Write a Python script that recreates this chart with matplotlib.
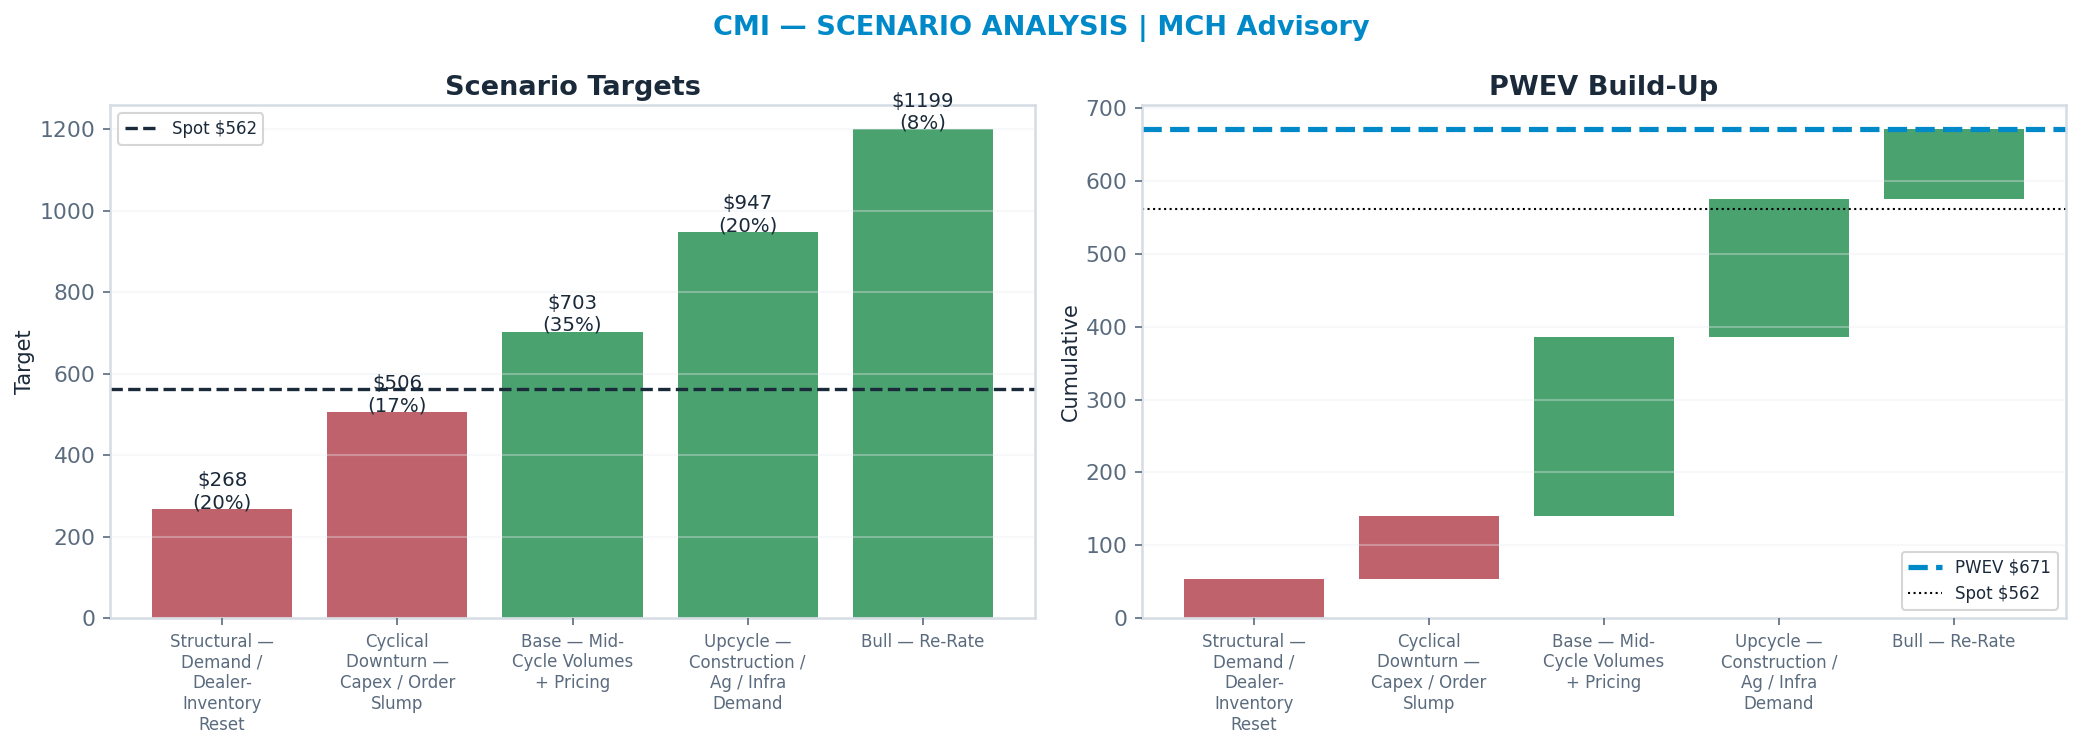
import textwrap
import matplotlib
matplotlib.use("Agg")
import matplotlib.pyplot as plt
import numpy as np

scenarios = [
    "Structural — Demand / Dealer-Inventory Reset",
    "Cyclical Downturn — Capex / Order Slump",
    "Base — Mid-Cycle Volumes + Pricing",
    "Upcycle — Construction / Ag / Infra Demand",
    "Bull — Re-Rate",
]
targets = [268, 506, 703, 947, 1199]
probs = [0.20, 0.17, 0.35, 0.20, 0.08]
spot = 562
pwev = 671

RED = "#C0626C"
GREEN = "#4AA26F"
DARK = "#1B2A3A"
TICK = "#5A6B7E"
SPINE = "#D5DCE4"
BLUE = "#0089C8"

plt.rcParams["font.family"] = ["DejaVu Sans"]

fig = plt.figure(figsize=(2083 / 150, 742 / 150), dpi=150)
W, H = 2083, 742
ax1 = fig.add_axes([110 / W, 1 - 618 / H, 925 / W, 513 / H])
ax2 = fig.add_axes([1142 / W, 1 - 618 / H, 924 / W, 513 / H])

labels = [textwrap.fill(s, 14) for s in scenarios]
x = np.arange(len(scenarios))
colors = [RED if t < spot else GREEN for t in targets]


def style(ax):
    for s in ax.spines.values():
        s.set_color(SPINE)
        s.set_linewidth(1.2)
    ax.tick_params(axis="y", colors=TICK, labelsize=10.5)
    ax.tick_params(axis="x", colors=TICK, labelsize=8)
    for t in ax.get_xticklabels() + ax.get_yticklabels():
        t.set_color(TICK)
    ax.set_axisbelow(False)
    ax.grid(axis="y", color="#E8ECEF", alpha=0.35, linewidth=1.0)


# Left: scenario targets
ax1.bar(x, targets, width=0.8, color=colors)
for xi, t, p in zip(x, targets, probs):
    ax1.text(xi, t - 8, f"${t}\n({p*100:.0f}%)", ha="center", va="bottom",
             fontsize=9.5, color=DARK, linespacing=1.2)
ax1.axhline(spot, color=DARK, linestyle="--", linewidth=1.6, label=f"Spot ${spot}")
ax1.set_ylim(0, max(targets) * 1.05)
ax1.set_xticks(x)
ax1.set_xticklabels(labels)
ax1.set_ylabel("Target", fontsize=10, color=DARK, labelpad=2)
ax1.set_title("Scenario Targets", fontsize=13, fontweight="bold", color=DARK, pad=5)
leg1 = ax1.legend(loc="upper left", fontsize=8, frameon=True)
for txt in leg1.get_texts():
    txt.set_color(DARK)
style(ax1)

# Right: PWEV build-up waterfall
contrib = [t * p for t, p in zip(targets, probs)]
bottoms = np.concatenate([[0], np.cumsum(contrib)[:-1]])
ax2.bar(x, contrib, bottom=bottoms, width=0.8, color=colors)
ax2.axhline(pwev, color=BLUE, linestyle="--", linewidth=2.5, label=f"PWEV ${pwev}")
ax2.axhline(spot, color="black", linestyle=":", linewidth=1.0, label=f"Spot ${spot}")
ax2.set_ylim(0, pwev * 1.05)
ax2.set_xticks(x)
ax2.set_xticklabels(labels)
ax2.set_ylabel("Cumulative", fontsize=10, color=DARK, labelpad=2)
ax2.set_title("PWEV Build-Up", fontsize=13, fontweight="bold", color=DARK, pad=5)
leg2 = ax2.legend(loc="lower right", fontsize=8, frameon=True)
for txt in leg2.get_texts():
    txt.set_color(DARK)
style(ax2)

fig.text(0.5, 1 - 28 / H, "CMI — SCENARIO ANALYSIS | MCH Advisory", ha="center", va="center",
         fontsize=13, fontweight="bold", color=BLUE)

fig.savefig("out.png", dpi=150)
